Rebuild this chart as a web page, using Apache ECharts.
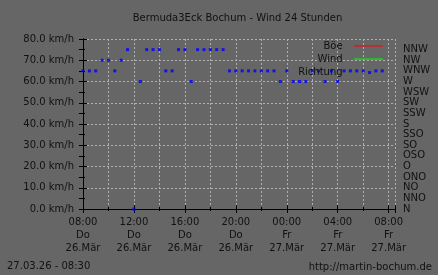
<!DOCTYPE html>
<html>
<head>
<meta charset="utf-8">
<script src="https://cdn.jsdelivr.net/npm/echarts@6/dist/echarts.min.js"></script>
<style>
html,body{margin:0;padding:0;background:#666666;}
#c{width:438px;height:275px;}
</style>
</head>
<body>
<div id="c"></div>
<script>
const titleText = 'Bermuda3Eck Bochum - Wind 24 Stunden';
const footerLeft = '27.03.26 - 08:30';
const footerRight = 'http://martin-bochum.de';
const seriesNames = ['Böe', 'Wind', 'Richtung'];
const dirLabels = ['N','NNO','NO','ONO','O','OSO','SO','SSO','S','SSW','SW','WSW','W','WNW','NW','NNW'];
const xTickLabels = ['08:00\nDo\n26.Mär','12:00\nDo\n26.Mär','16:00\nDo\n26.Mär','20:00\nDo\n26.Mär','00:00\nFr\n27.Mär','04:00\nFr\n27.Mär','08:00\nFr\n27.Mär'];
const times = ['08:00','08:30','09:00','09:30','10:00','10:30','11:00','11:30',
  '12:00','12:30','13:00','13:30','14:00','14:30','15:00','15:30',
  '16:00','16:30','17:00','17:30','18:00','18:30','19:00','19:30',
  '20:00','20:30','21:00','21:30','22:00','22:30','23:00','23:30',
  '00:00','00:30','01:00','01:30','02:00','02:30','03:00','03:30',
  '04:00','04:30','05:00','05:30','06:00','06:30','07:00','07:30'];
const richtung = [292.5,292.5,292.5,315,315,292.5,315,337.5,
  0,270,337.5,337.5,337.5,292.5,292.5,337.5,
  337.5,270,337.5,337.5,337.5,337.5,337.5,292.5,
  292.5,292.5,292.5,292.5,292.5,292.5,292.5,270,
  292.5,270,270,270,292.5,292.5,270,292.5,
  270,292.5,292.5,292.5,292.5,289,292.5,292.5];
const boe = [];
const wind = [];

function toHours(t){
  const p = t.split(':');
  const h = parseInt(p[0],10), m = parseInt(p[1],10);
  return ((h - 8 + 24) % 24) + m/60;
}
const dirData = times.map((t,i)=>[toHours(t), richtung[i]]);

const FONT = 'DejaVu Sans';
const TXT = '#111111';
const GRIDC = '#b0b0b0';

const chart = echarts.init(document.getElementById('c'), null, {renderer:'canvas'});
chart.setOption({
  animation:false,
  backgroundColor:'#666666',
  textStyle:{fontFamily:FONT, color:TXT, fontSize:10},
  grid:{left:83, right:43, top:39, bottom:66, outerBoundsMode:'none'},
  legend:{
    orient:'vertical', align:'right', right:55, top:40, padding:0,
    itemWidth:29, itemHeight:1, itemGap:1, selectedMode:false,
    textStyle:{fontFamily:FONT, color:TXT, fontSize:10, lineHeight:12},
    formatter: n => n + '  ',
    data:[
      {name:seriesNames[0], icon:'rect', itemStyle:{color:'#ff0000', borderWidth:0}},
      {name:seriesNames[1], icon:'rect', itemStyle:{color:'#00ff00', borderWidth:0}},
      {name:seriesNames[2], icon:'rect', itemStyle:{color:'rgba(0,0,0,0)', opacity:0, borderWidth:0}}
    ]
  },
  xAxis:[{
    type:'value', min:0, max:24.5, interval:4, position:'bottom',
    axisLine:{show:true, lineStyle:{color:'#000', width:1}},
    axisTick:{show:true, inside:true, length:4, lineStyle:{color:'#000'}},
    minorTick:{show:true, splitNumber:2, length:2, lineStyle:{color:'#000'}},
    splitLine:{show:true, lineStyle:{color:GRIDC, type:[2,2], width:1}},
    minorSplitLine:{show:true, lineStyle:{color:GRIDC, type:[2,2], width:1}},
    axisLabel:{
      margin:7, color:TXT, fontFamily:FONT, fontSize:10, lineHeight:13,
      showMaxLabel:false,
      formatter: v => (v % 4 === 0 && xTickLabels[v/4] !== undefined) ? xTickLabels[v/4] : ''
    }
  },{
    type:'value', min:0, max:24.5, interval:4, position:'top',
    axisLine:{show:true, lineStyle:{color:'#000', width:1}},
    axisTick:{show:true, inside:true, length:4, lineStyle:{color:'#000'}},
    minorTick:{show:true, splitNumber:2, length:2, lineStyle:{color:'#000'}},
    splitLine:{show:false}, axisLabel:{show:false}
  }],
  yAxis:[{
    type:'value', min:0, max:80, interval:10, position:'left',
    axisLine:{show:true, lineStyle:{color:'#000', width:1}},
    axisTick:{show:true, inside:true, length:4, lineStyle:{color:'#000'}},
    minorTick:{show:true, splitNumber:2, length:2, lineStyle:{color:'#000'}},
    splitLine:{show:true, lineStyle:{color:GRIDC, type:[2,2], width:1}},
    axisLabel:{margin:9, color:TXT, fontFamily:FONT, fontSize:10,
      formatter: v => v.toFixed(1) + ' km/h'}
  },{
    type:'value', min:0, max:360, interval:22.5, position:'right',
    axisLine:{show:true, lineStyle:{color:'#000', width:1}},
    axisTick:{show:true, inside:true, length:4, lineStyle:{color:'#000'}},
    splitLine:{show:false},
    axisLabel:{margin:8, color:TXT, fontFamily:FONT, fontSize:10,
      formatter: v => dirLabels[Math.round(v/22.5)] || ''}
  }],
  series:[
    {name:seriesNames[0], type:'line', data:boe, symbol:'none', color:'#ff0000', lineStyle:{color:'#ff0000', width:1}},
    {name:seriesNames[1], type:'line', data:wind, symbol:'none', color:'#00ff00', lineStyle:{color:'#00ff00', width:1}},
    {name:seriesNames[2], type:'scatter', data:dirData, yAxisIndex:1, xAxisIndex:0,
      symbol:'rect', symbolSize:3, itemStyle:{color:'#0000ff'}, z:3}
  ],
  graphic:[
    {type:'text', x:237.5, y:18, style:{text:titleText, fill:TXT, font:'10px "DejaVu Sans"', textAlign:'center', textVerticalAlign:'middle'}},
    {type:'text', x:7, y:266, style:{text:footerLeft, fill:TXT, font:'10px "DejaVu Sans"', textAlign:'left', textVerticalAlign:'middle'}},
    {type:'text', x:432, y:267, style:{text:footerRight, fill:TXT, font:'10px "DejaVu Sans"', textAlign:'right', textVerticalAlign:'middle'}}
  ]
});
</script>
</body>
</html>
